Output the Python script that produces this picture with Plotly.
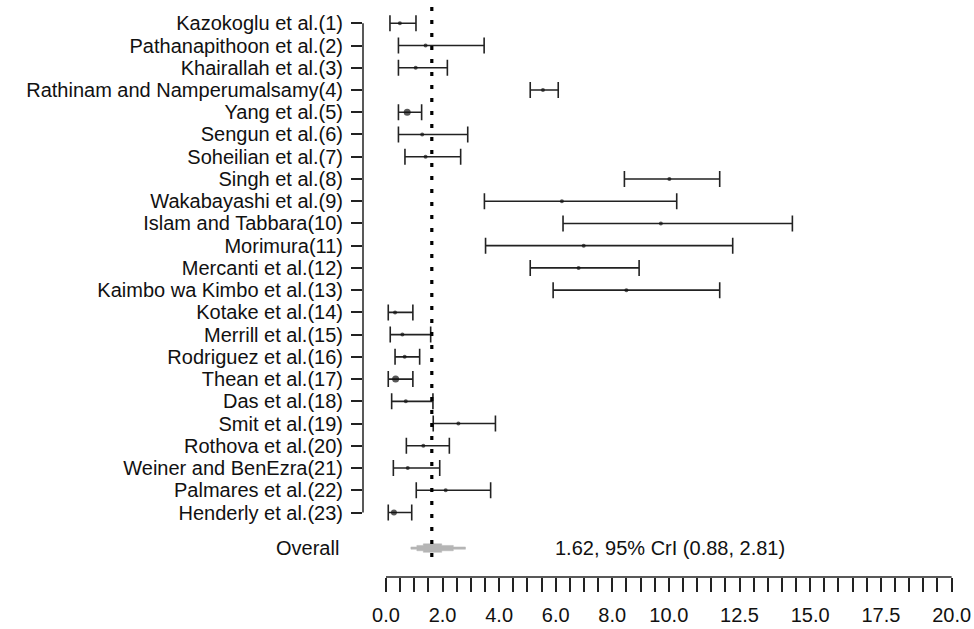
import plotly.graph_objects as go

studies = ["Kazokoglu et al.(1)", "Pathanapithoon et al.(2)", "Khairallah et al.(3)",
           "Rathinam and Namperumalsamy(4)", "Yang et al.(5)", "Sengun et al.(6)",
           "Soheilian et al.(7)", "Singh et al.(8)", "Wakabayashi et al.(9)",
           "Islam and Tabbara(10)", "Morimura(11)", "Mercanti et al.(12)",
           "Kaimbo wa Kimbo et al.(13)", "Kotake et al.(14)", "Merrill et al.(15)",
           "Rodriguez et al.(16)", "Thean et al.(17)", "Das et al.(18)", "Smit et al.(19)",
           "Rothova et al.(20)", "Weiner and BenEzra(21)", "Palmares et al.(22)",
           "Henderly et al.(23)"]
est = [0.49, 1.40, 1.05, 5.55, 0.75, 1.28, 1.40, 10.02, 6.22, 9.72, 6.99, 6.81, 8.50,
       0.32, 0.58, 0.66, 0.34, 0.70, 2.56, 1.32, 0.77, 2.11, 0.28]
lo = [0.14, 0.44, 0.44, 5.10, 0.44, 0.44, 0.67, 8.43, 3.48, 6.26, 3.52, 5.10, 5.91,
      0.08, 0.15, 0.32, 0.08, 0.20, 1.67, 0.72, 0.26, 1.07, 0.08]
hi = [1.06, 3.47, 2.17, 6.09, 1.26, 2.89, 2.64, 11.80, 10.28, 14.37, 12.26, 8.95, 11.80,
      0.95, 1.58, 1.19, 0.95, 1.66, 3.87, 2.24, 1.90, 3.70, 0.91]
point_size = [4, 4, 4, 4, 7, 4, 4, 4, 4, 4, 4, 4, 4, 4, 4, 4, 7, 4, 4, 4, 4, 4, 6]

overall_label = "Overall"
overall_est = 1.62
overall_lo = 0.88
overall_hi = 2.81
overall_text = "1.62, 95% CrI (0.88, 2.81)"
# posterior density bands (inner levels of the grey shape)
band_lo = [0.88, 1.09, 1.32]
band_hi = [2.81, 2.38, 1.97]
band_half = [0.05, 0.12, 0.19]

tick_vals = [i * 0.5 for i in range(41)]
tick_labels = {0.0: "0.0", 2.0: "2.0", 4.0: "4.0", 6.0: "6.0", 8.0: "8.0", 10.0: "10.0",
               12.5: "12.5", 15.0: "15.0", 17.5: "17.5", 20.0: "20.0"}

rows = list(range(1, len(studies) + 1))
overall_row = 24.6

FONT = "Liberation Sans, Arial, sans-serif"
FS = 20
fig = go.Figure()

# study intervals
fig.add_trace(go.Scatter(
    x=est, y=rows, mode="markers",
    marker=dict(symbol="circle", size=point_size, color="#111111", line=dict(width=0)),
    error_x=dict(type="data", symmetric=False,
                 array=[h - e for h, e in zip(hi, est)],
                 arrayminus=[e - l for e, l in zip(est, lo)],
                 color="#222222", thickness=1.6, width=8),
    showlegend=False, hoverinfo="skip"))

# overall density shape (stepped outline built from the band lists)
px = []
py = []
n = len(band_lo)
for i in range(n):
    prev = band_half[i - 1] if i > 0 else 0
    px += [band_lo[i], band_lo[i]]
    py += [overall_row + prev, overall_row + band_half[i]]
for i in reversed(range(n)):
    prev = band_half[i - 1] if i > 0 else 0
    px += [band_hi[i], band_hi[i]]
    py += [overall_row + band_half[i], overall_row + prev]
upper_x = list(reversed(px))
upper_y = [2 * overall_row - v for v in reversed(py)]
fig.add_trace(go.Scatter(
    x=px + upper_x, y=py + upper_y, mode="lines", fill="toself",
    fillcolor="#b5b5b5", line=dict(color="#b5b5b5", width=0.5),
    showlegend=False, hoverinfo="skip"))

# dotted pooled line
fig.add_shape(type="line", x0=overall_est, x1=overall_est, y0=0.27, y1=25.36,
              xref="x", yref="y", line=dict(color="black", width=3.2, dash="4px,9px"))
# bottom axis line
fig.add_shape(type="line", x0=0, x1=20, y0=0, y1=0, xref="x", yref="paper",
              line=dict(color="#222222", width=1.5))
# left axis line
fig.add_shape(type="line", x0=0, x1=0, y0=1, y1=len(studies), xref="paper", yref="y",
              line=dict(color="#222222", width=1.5))

x0_px = 386
upu = 28.28
left = 363
right_px = 964
plot_w = right_px - left

fig.add_annotation(x=-(left - 341) / plot_w, y=overall_row, xref="paper", yref="y",
                   text=overall_label, showarrow=False, xanchor="right", yanchor="middle",
                   font=dict(family=FONT, size=FS, color="#111111"))
fig.add_annotation(x=5.9, y=overall_row, xref="x", yref="y", text=overall_text,
                   showarrow=False, xanchor="left", yanchor="middle",
                   font=dict(family=FONT, size=FS, color="#111111"))

fig.update_layout(
    width=974, height=629,
    margin=dict(l=left, r=974 - right_px, t=0, b=52, pad=0),
    paper_bgcolor="white", plot_bgcolor="white",
    font=dict(family=FONT, size=FS, color="#111111"),
    xaxis=dict(range=[(left - x0_px) / upu, (right_px - x0_px) / upu],
               tickvals=tick_vals,
               ticktext=[tick_labels.get(v, "") for v in tick_vals],
               ticks="outside", ticklen=14, tickwidth=1.5, tickcolor="#222222",
               ticklabelstandoff=6,
               showgrid=False, zeroline=False, showline=False,
               tickfont=dict(family=FONT, size=FS, color="#111111")),
    yaxis=dict(range=[25.9, -0.048], tickvals=rows, ticktext=studies,
               ticks="outside", ticklen=11, tickwidth=1.5, tickcolor="#222222",
               ticklabelstandoff=4,
               showgrid=False, zeroline=False, showline=False,
               tickfont=dict(family=FONT, size=FS, color="#111111")),
)

fig.write_html("out.html")
